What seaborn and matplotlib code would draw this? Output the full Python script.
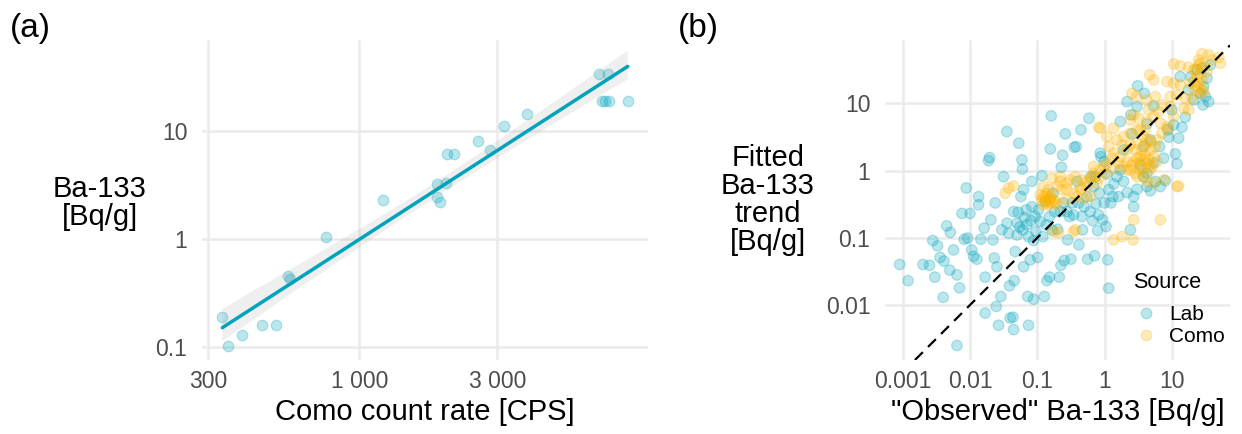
import numpy as np
import pandas as pd
import matplotlib
matplotlib.use("Agg")
import matplotlib.pyplot as plt
from matplotlib.collections import PolyCollection
from matplotlib.ticker import FixedLocator, NullLocator
import seaborn as sns

# ---------------- data ----------------
# (a) calibration: Como count rate vs Ba-133 activity
como_cps = [336, 352, 392, 459, 514, 568, 575, 764, 1207, 1854, 1862, 1897, 1995,
            2004, 2127, 2574, 2823, 3171, 3805, 6745, 6900, 7047, 7265, 7297, 8470]
ba133_bqg = [0.191, 0.103, 0.128, 0.159, 0.159, 0.454, 0.424, 1.04, 2.31, 2.45, 3.23,
             2.20, 3.30, 6.17, 6.17, 8.13, 6.67, 11.1, 14.3, 33.7, 19.1, 19.1, 33.7,
             19.1, 19.1]

# (b) observed vs fitted Ba-133 trend, by data source
lab_observed = [
    0.0009, 0.0012, 0.0020, 0.0025, 0.0028, 0.0033, 0.0030, 0.0036, 0.0041, 0.0040,
    0.0045, 0.0051, 0.0050, 0.0057, 0.0064, 0.0070, 0.0064, 0.0076, 0.0088, 0.0082,
    0.0092, 0.0100, 0.0113, 0.0106, 0.0126, 0.0134, 0.0134, 0.0145, 0.0162, 0.0168,
    0.0168, 0.0188, 0.0195, 0.0204, 0.0219, 0.0229, 0.0237, 0.0251, 0.0245, 0.0265,
    0.0287, 0.0297, 0.0315, 0.0353, 0.0353, 0.0374, 0.0386, 0.0395, 0.0434, 0.0444,
    0.0454, 0.047, 0.050, 0.052, 0.053, 0.057, 0.059, 0.060, 0.0625, 0.064,
    0.0625, 0.068, 0.072, 0.074, 0.0785, 0.080, 0.083, 0.088, 0.088, 0.095,
    0.101, 0.110, 0.117, 0.127, 0.131, 0.139, 0.152, 0.156, 0.161, 0.171,
    0.181, 0.200, 0.212, 0.224, 0.227, 0.237, 0.251, 0.260, 0.282, 0.298,
    0.316, 0.334, 0.354, 0.379, 0.388, 0.415, 0.445, 0.471, 0.499, 0.559,
    0.585, 0.612, 0.626, 0.663, 0.71, 0.743, 0.787, 0.833, 0.882, 0.934,
    1.05, 1.11, 1.15, 1.24, 1.32,
    0.0444, 0.050, 0.0545, 0.061, 0.070, 0.074, 0.083, 0.093, 0.104, 0.121,
    0.136, 0.152, 0.165, 0.219, 0.245, 0.275, 0.346, 0.41, 0.46, 0.546,
    0.686, 0.814, 0.985, 1.15,
    1.71, 2.15, 2.46, 3.10, 3.89, 4.26, 4.78, 5.35, 6.57, 7.54,
    7.98, 8.65, 10.0, 11.2, 11.9, 14.1, 15.8, 17.7, 19.2, 21.1,
    26.5, 28.0, 33.2, 31.4, 29.0, 37.3, 23.6, 13.3, 12.6, 4.26,
    3.80, 3.03, 2.70, 2.15, 1.92, 1.71, 1.61, 1.36, 1.08, 0.985,
    0.86, 0.73, 2.70, 2.41, 3.03, 2.55, 1.92, 5.67, 4.78, 6.73,
    8.95, 5.35, 29.6, 35.2, 10.6, 3.80, 1.53, 3.39, 4.26,
]
lab_fitted = [
    0.040, 0.023, 0.040, 0.039, 0.091, 0.076, 0.026, 0.051, 0.045, 0.013,
    0.15, 0.12, 0.033, 0.066, 0.028, 0.018, 0.0025, 0.23, 0.55, 0.095,
    0.099, 0.23, 0.053, 0.066, 0.048, 0.41, 0.31, 0.095, 0.139, 0.0076,
    0.026, 1.41, 1.56, 0.185, 0.093, 0.050, 0.33, 0.037, 0.0095, 0.0050,
    0.0134, 0.131, 0.81, 3.80, 0.165, 0.117, 0.0193, 0.0064, 0.0066, 0.0043,
    0.023, 0.0625, 0.110, 0.24, 2.55, 0.41, 1.44, 1.05, 0.52, 0.20,
    0.037, 0.26, 0.0134, 0.0050, 0.047, 0.18, 0.69, 0.0122, 0.091, 0.124,
    0.051, 0.175, 0.84, 0.0134, 0.35, 0.023, 0.026, 2.10, 6.50, 0.46,
    0.245, 0.134, 0.026, 0.039, 1.12, 1.69, 0.046, 3.51, 0.093, 0.207,
    0.048, 0.33, 2.22, 2.27, 0.69, 0.0785, 4.03, 0.131, 0.29, 0.048,
    6.0, 0.245, 0.81, 0.18, 0.054, 0.32, 0.128, 0.46, 1.61, 0.185,
    0.147, 0.047, 0.0178, 0.33, 0.41,
    0.245, 0.165, 0.144, 0.131, 0.156, 0.104, 0.29, 0.207, 0.26, 0.104,
    0.156, 0.207, 0.131, 0.245, 0.33, 0.245, 0.219, 0.33, 0.207, 0.41,
    0.578, 0.219, 0.33, 0.52,
    5.35, 10.6, 6.73, 18.2, 14.1, 4.94, 2.86, 1.29, 2.27, 1.53,
    0.71, 4.03, 7.98, 1.77, 1.26, 4.41, 6.21, 15.8, 25.0, 11.2,
    14.1, 33.2, 23.6, 12.6, 9.47, 37.3, 31.4, 25.0, 3.03, 0.578,
    0.81, 0.528, 0.41, 0.471, 0.69, 1.02, 0.41, 0.633, 0.89, 1.36,
    1.81, 0.81, 0.29, 0.131, 8.95, 3.51, 2.03, 0.69, 0.50, 0.578,
    3.13, 9.16, 17.7, 10.6, 4.78, 2.27, 0.81, 1.21, 0.91,
]
como_observed = [
    28.0, 35.2, 49.6, 52.5, 10.6, 13.3, 17.7, 22.3, 25.0, 26.5,
    4.67, 5.35, 8.45, 10.6, 13.3, 23.6, 26.5, 29.6, 2.55, 3.03,
    4.26, 5.67, 7.12, 9.47, 15.0, 17.7, 10.6, 2.70, 3.20, 4.26,
    5.35, 6.73, 8.45, 8.95, 1.36, 1.08, 1.53, 1.92, 2.41, 3.03,
    3.80, 4.78, 6.0, 7.12, 0.814, 1.15, 1.36, 1.71, 2.15, 2.55,
    3.03, 3.59, 4.03, 4.78, 5.35, 4.26, 3.39, 3.80, 4.78, 2.86,
    2.41, 1.92, 1.61, 1.36, 1.08, 1.02, 0.86, 0.686, 0.612, 0.77,
    0.546, 0.435, 0.366, 0.308, 0.275, 0.219, 0.346, 0.275, 0.232, 0.388,
    0.487, 0.612, 0.139, 0.156, 0.131, 0.147, 0.175, 0.117, 0.165, 0.124,
    0.0374, 0.0444, 0.0333, 0.175, 0.207, 0.346, 0.366, 0.86, 1.36, 1.81,
    2.64, 2.70, 6.73, 12.6, 11.9, 7.54, 5.35, 4.26, 3.39, 4.51,
    6.35, 11.9, 15.8, 21.1, 26.5, 39.4, 19.9, 9.47, 0.275, 0.195,
    0.165, 0.219, 0.46, 0.686, 1.29, 2.15, 3.03, 4.03, 1.81, 2.41,
    0.131, 0.147, 3.80, 4.51, 3.20, 23.6, 25.0, 28.0,
    0.121, 0.139, 0.159, 0.185, 0.124, 0.110, 0.195, 0.147,
    2.41, 2.86, 3.39, 4.03, 4.51, 5.06, 3.59, 2.70, 2.15, 5.67, 6.0, 4.26, 3.03,
    21.1, 25.0, 29.6, 22.3, 28.0, 33.2, 18.8,
    0.686, 0.814, 0.985, 0.546, 0.435,
]
como_fitted = [
    54.3, 52.5, 48.4, 39.4, 38.6, 36.0, 34.4, 32.1, 37.3, 28.0,
    26.5, 22.3, 21.1, 19.9, 18.8, 17.7, 14.1, 15.0, 14.1, 12.6,
    11.2, 12.6, 9.47, 8.95, 8.45, 7.98, 6.35, 6.73, 6.0, 5.35,
    6.35, 5.06, 4.51, 4.26, 4.26, 3.20, 2.86, 3.20, 3.59, 4.03,
    3.20, 2.70, 2.86, 3.59, 4.41, 2.27, 1.81, 1.61, 1.36, 1.21,
    1.53, 2.03, 1.71, 2.03, 1.61, 1.29, 1.02, 0.81, 1.02, 0.91,
    1.02, 1.15, 1.29, 1.08, 1.29, 0.91, 1.02, 0.91, 0.77, 0.648,
    0.578, 0.578, 0.81, 0.73, 0.648, 0.69, 0.46, 0.52, 0.52, 0.41,
    0.388, 0.41, 0.46, 0.388, 0.35, 0.31, 0.366, 0.366, 0.33, 0.578,
    0.55, 0.59, 0.46, 0.124, 0.12, 0.124, 0.131, 4.26, 0.093, 0.104,
    0.093, 0.185, 0.185, 0.59, 0.578, 0.73, 0.648, 0.69, 4.03, 7.98,
    7.54, 13.3, 11.9, 21.1, 39.4, 44.2, 11.9, 12.6, 0.366, 0.578,
    0.77, 0.81, 0.73, 1.15, 1.53, 2.03, 2.55, 4.03, 2.41, 5.67,
    0.41, 0.366, 1.44, 1.15, 1.29, 25.0, 19.9, 15.8,
    0.41, 0.33, 0.42, 0.35, 0.31, 0.435, 0.31, 0.52,
    2.41, 2.03, 1.61, 2.41, 1.44, 1.15, 1.08, 1.36, 1.02, 2.27, 1.36, 2.86, 0.81,
    31.4, 44.2, 35.2, 15.8, 22.3, 29.6, 19.9,
    0.81, 0.77, 1.15, 0.69, 0.52,
]

sources = ["Lab", "Como"]
a_xticks = [300, 1000, 3000]
a_xticklabels = ["300", "1 000", "3 000"]
a_yticks = [0.1, 1, 10]
a_yticklabels = ["0.1", "1", "10"]
b_xticks = [0.001, 0.01, 0.1, 1, 10]
b_xticklabels = ["0.001", "0.01", "0.1", "1", "10"]
b_yticks = [0.01, 0.1, 1, 10]
b_yticklabels = ["0.01", "0.1", "1", "10"]

# ---------------- style ----------------
TEAL = "#00A3BC"
GOLD = "#FFB300"
GRID = "#EBEBEB"
TICK = "#4D4D4D"
palette = {"Lab": TEAL, "Como": GOLD}

sns.set_theme(style="white")
plt.rcParams["font.family"] = ["Liberation Sans", "DejaVu Sans"]
plt.rcParams["text.color"] = "black"
plt.rcParams["axes.labelcolor"] = "black"

W, H = 1242, 434
fig = plt.figure(figsize=(W / 100, H / 100), dpi=100)
ax_a = fig.add_axes([202 / W, 1 - 360 / H, (648 - 202) / W, 320 / H])
ax_b = fig.add_axes([885 / W, 1 - 360 / H, (1230 - 885) / W, 320 / H])


def tidy(ax):
    sns.despine(ax=ax, left=True, bottom=True, top=True, right=True)
    ax.grid(True, which="major", color=GRID, lw=1.8)
    ax.set_axisbelow(True)
    ax.tick_params(axis="both", length=0, labelsize=16.5, labelcolor=TICK)
    ax.tick_params(axis="x", pad=7)
    ax.tick_params(axis="y", pad=10.5)


# ---------------- (a) log-log calibration fit ----------------
df_a = pd.DataFrame({"log_cps": np.log10(como_cps), "log_ba": np.log10(ba133_bqg)})
sns.regplot(data=df_a, x="log_cps", y="log_ba", ax=ax_a, color=TEAL, ci=95,
            truncate=True, n_boot=2000, seed=3,
            scatter_kws=dict(s=58, alpha=0.27, linewidths=0.9, edgecolors=TEAL),
            line_kws=dict(lw=2.5))
for coll in ax_a.collections:
    if isinstance(coll, PolyCollection):
        coll.set_facecolor((0.6, 0.6, 0.6, 0.24))
        coll.set_edgecolor("none")

ax_a.set_xlim(2.456, 3.998)
ax_a.set_ylim(-1.12, 1.843)
ax_a.set_xticks(np.log10(a_xticks))
ax_a.set_xticklabels(a_xticklabels)
ax_a.set_yticks(np.log10(a_yticks))
ax_a.set_yticklabels(a_yticklabels)
tidy(ax_a)
ax_a.set_xlabel("Como count rate [CPS]", fontsize=21, va="center")
ax_a.xaxis.set_label_coords(0.5, -0.163)
ax_a.set_ylabel("Ba-133\n[Bq/g]", fontsize=21, rotation=0, ha="center",
                va="center", linespacing=1.0)
ax_a.yaxis.set_label_coords((100 - 202) / 446, 0.49)

# ---------------- (b) observed vs fitted ----------------
df_b = pd.concat([
    pd.DataFrame({"observed": lab_observed, "fitted": lab_fitted, "Source": "Lab"}),
    pd.DataFrame({"observed": como_observed, "fitted": como_fitted, "Source": "Como"}),
], ignore_index=True)

sns.scatterplot(data=df_b, x="observed", y="fitted", hue="Source", hue_order=sources,
                palette=palette, s=58, alpha=0.27, linewidth=0.9, edgecolor="face",
                ax=ax_b)
ax_b.set_xscale("log")
ax_b.set_yscale("log")
ax_b.set_xlim(10 ** -3.263, 10 ** 1.863)
ax_b.set_ylim(10 ** -2.818, 10 ** 1.942)
ax_b.axline((1, 1), (10, 10), color="black", lw=1.6, ls=(0, (5, 3.3)), zorder=3)

ax_b.xaxis.set_major_locator(FixedLocator(b_xticks))
ax_b.yaxis.set_major_locator(FixedLocator(b_yticks))
ax_b.xaxis.set_minor_locator(NullLocator())
ax_b.yaxis.set_minor_locator(NullLocator())
ax_b.set_xticklabels(b_xticklabels)
ax_b.set_yticklabels(b_yticklabels)
tidy(ax_b)
ax_b.set_xlabel('"Observed" Ba-133 [Bq/g]', fontsize=21, va="center")
ax_b.xaxis.set_label_coords(0.5, -0.163)
ax_b.set_ylabel("Fitted\nBa-133\ntrend\n[Bq/g]", fontsize=21, rotation=0,
                ha="center", va="center", linespacing=1.0)
ax_b.yaxis.set_label_coords((768 - 885) / 345, 0.5)

leg = ax_b.legend(title="Source", loc="upper left",
                  bbox_to_anchor=(1133 / W, 1 - 272 / H),
                  bbox_transform=fig.transFigure, frameon=False, fontsize=15,
                  title_fontsize=15.5, alignment="left", handlelength=1.2,
                  handletextpad=0.55, labelspacing=0.12, borderaxespad=0,
                  borderpad=0)
leg._legend_box.sep = 9  # extra room between the title and the entries
for h in leg.legend_handles:
    h.set_alpha(0.27)

# panel tags
fig.text(10 / W, 1 - 28 / H, "(a)", fontsize=24, ha="left", va="center")
fig.text(678 / W, 1 - 28 / H, "(b)", fontsize=24, ha="left", va="center")

fig.savefig("out.png", dpi=100)
